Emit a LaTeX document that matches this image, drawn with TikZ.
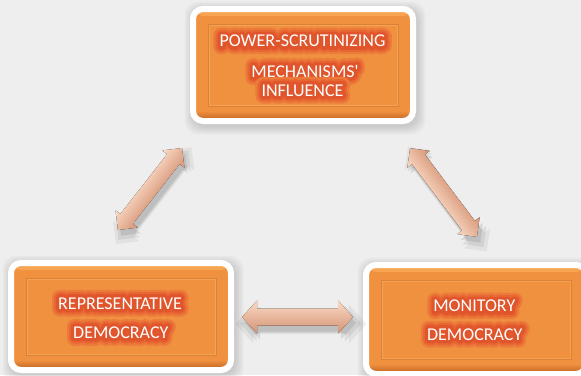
\documentclass[tikz,border=0pt]{standalone}
\usepackage{fontspec}
\setmainfont{Carlito}[Ligatures=TeXOff]
\usetikzlibrary{shadows}
\definecolor{bg}{HTML}{EEEEEE}
\definecolor{boxor}{HTML}{F0913F}
\definecolor{boxtop}{HTML}{F7A654}
\definecolor{boxbot}{HTML}{BA6020}
\definecolor{bevel}{HTML}{D98039}
\definecolor{bevellt}{HTML}{F5A252}
\definecolor{glowA}{HTML}{EC7A3B}
\definecolor{glowB}{HTML}{E76632}
\definecolor{glowC}{HTML}{E0552B}
\definecolor{arrlight}{HTML}{FBDAC5}
\definecolor{arrmid}{HTML}{F2BE9F}
\definecolor{arrdark}{HTML}{D49374}
\newcommand\glowtxt[1]{%
  \makebox[0pt][l]{\special{pdf:literal direct 1 j 1 J 15 w 1 Tr}\color{glowA}#1}%
  \makebox[0pt][l]{\special{pdf:literal direct 1 j 1 J 10.5 w 1 Tr}\color{glowB}#1}%
  \makebox[0pt][l]{\special{pdf:literal direct 1 j 1 J 6.5 w 1 Tr}\color{glowC}#1}%
  \special{pdf:literal direct 0 Tr 1 w}#1}
\newcommand\softshadow[4]{%
  \foreach \k in {0,1.5,...,7.5}{%
    \fill[black,opacity=0.022,rounded corners=14pt] (#1-\k+2,#2-\k+3) rectangle (#3+\k+2,#4+\k+3);}}
% double arrow centred at origin: length, head half-width, shaft half-width, head length
\newcommand\dblarrowpath[4]{%
  (-#1/2,0) -- (-#1/2+#4,#2) -- (-#1/2+#4,#3) -- (#1/2-#4,#3) -- (#1/2-#4,#2) -- (#1/2,0)
  -- (#1/2-#4,-#2) -- (#1/2-#4,-#3) -- (-#1/2+#4,-#3) -- (-#1/2+#4,-#2) -- cycle}
\begin{document}
\begin{tikzpicture}[x=1pt,y=-1pt,
  box/.style={draw=white, line width=6pt, rounded corners=10pt, fill=boxor,
    inner sep=0pt, outer sep=0pt, minimum width=220pt,
    path picture={
      \shade[top color=boxtop, bottom color=boxor]
        (path picture bounding box.north west) rectangle ([yshift=-7pt]path picture bounding box.north east);
      \shade[top color=boxor, bottom color=boxbot]
        ([yshift=10pt]path picture bounding box.south west) rectangle (path picture bounding box.south east);}},
  bevelline/.style={draw=bevel, line width=0.9pt},
  bevellight/.style={draw=bevellt, line width=0.6pt},
  txt/.style={text=white, font=\fontsize{18}{22}\selectfont, inner sep=0pt, anchor=base},
  arr/.style={top color=arrlight, middle color=arrmid, bottom color=arrdark},
  ashadow/.style n args={2}{
    general shadow={fill=black, opacity=0.05, shadow xshift=#1, shadow yshift=#2, shadow scale=1.18},
    general shadow={fill=black, opacity=0.07, shadow xshift=#1, shadow yshift=#2, shadow scale=1.09},
    general shadow={fill=black, opacity=0.09, shadow xshift=#1, shadow yshift=#2, shadow scale=1.0}}
]
\useasboundingbox (0,0) rectangle (581,375);
\fill[bg] (0,0) rectangle (581,375);

% shadows of boxes
\softshadow{190}{6}{416}{124}
\softshadow{8}{260}{234}{373}
\softshadow{363}{262}{589}{377}

% boxes
\node[box, minimum height=112pt] (top) at (303,65) {};
\node[box, minimum height=107pt] (rep) at (121,316.5) {};
\node[box, minimum height=109pt] (mon) at (476,319.5) {};

% bevels
\foreach \b in {top,rep,mon}{
  \draw[bevellight] ([shift={(16pt,-16pt)}]\b.north west) rectangle ([shift={(-16pt,16pt)}]\b.south east);
  \draw[bevelline] ([shift={(15pt,-15pt)}]\b.north west) rectangle ([shift={(-15pt,15pt)}]\b.south east);
}

% texts
\node[txt] (p1) at (302.5,46.7) {\glowtxt{POWER-SCRUTINIZING}};
\node[txt] (p2) at (305,77.3) {\glowtxt{MECHANISMS'}};
\node[txt] (p3) at (302.5,96) {\glowtxt{INFLUENCE}};
\node[txt] (r1) at (120,309) {\glowtxt{REPRESENTATIVE}};
\node[txt] (r2) at (120.8,338.3) {\glowtxt{DEMOCRACY}};
\node[txt] (m1) at (474.3,311.7) {\glowtxt{MONITORY}};
\node[txt] (m2) at (474.7,340) {\glowtxt{DEMOCRACY}};

% arrows
\begin{scope}[transform canvas={shift={(150,189)}, rotate=52}]
  \fill[arr, ashadow={-2.5pt}{-6pt}] \dblarrowpath{104}{14}{8}{14};
\end{scope}
\begin{scope}[transform canvas={shift={(443.5,192.5)}, rotate=127}]
  \fill[arr, ashadow={-6.5pt}{0.8pt}] \dblarrowpath{111}{14}{8}{14};
\end{scope}
\begin{scope}[transform canvas={shift={(297.5,317)}}]
  \fill[arr, ashadow={3pt}{-6pt}] \dblarrowpath{111}{16.5}{8.5}{15};
\end{scope}
\end{tikzpicture}
\end{document}
